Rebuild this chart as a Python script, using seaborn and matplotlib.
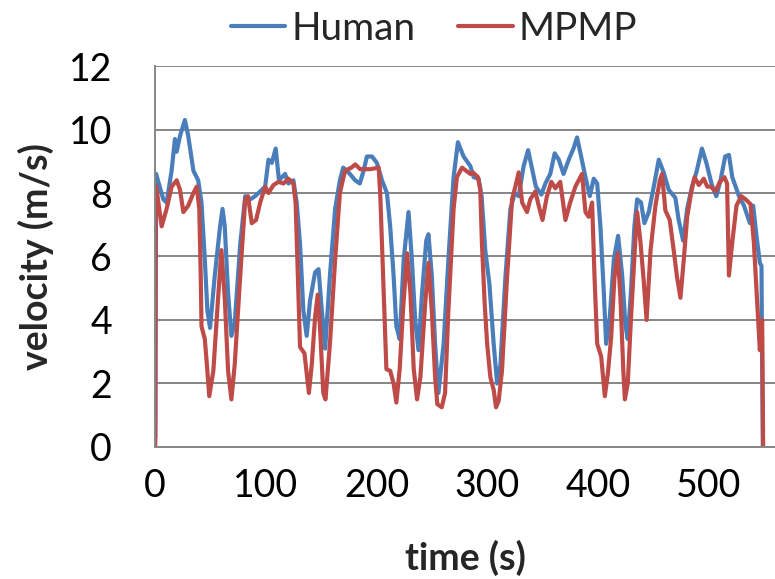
import pandas as pd
import matplotlib
matplotlib.use("Agg")
import matplotlib.pyplot as plt
import seaborn as sns
from matplotlib.lines import Line2D

# --- data ---
human_time = [0.3, 1, 7.5, 10.5, 15, 18, 19.6, 22.6, 27, 30, 34.7, 39, 42, 45, 47.3, 49.7, 54, 58.8,
              61, 63, 66, 69, 72, 77, 81.5, 86, 90.4, 96.4, 99.5, 102.5, 105.5, 109, 112, 117.5,
              120.5, 125, 128, 131, 134, 137, 140, 144.6, 147.7, 150.7, 153.7, 158, 162.7, 167,
              170, 176, 180.8, 185, 188.4, 191.4, 196, 200.4, 205, 209.5, 212.4, 215.5, 218, 221,
              224.6, 229, 232, 235, 238, 241, 245, 247, 250, 253, 256, 260.7, 265, 269.7, 273.6,
              278.7, 284.8, 287.8, 292.3, 295, 298.3, 302, 305.9, 309, 312, 316.5, 321, 325,
              328.5, 333, 337, 340.6, 344, 349, 352.6, 357, 361, 364.7, 369, 373.7, 378, 381.2,
              384.3, 388.8, 392.7, 396.3, 399.4, 402.3, 405.4, 407.5, 410.8, 414.4, 418.3, 422,
              425, 427, 430, 433, 435.5, 439, 442, 446, 450.5, 455, 459.4, 464, 470, 473, 477,
              480.7, 485, 489, 494, 498, 503, 507, 510.8, 515, 518.4, 521.4, 527.5, 532, 537.3,
              540.3, 543.3, 546.3, 547.8, 548.3, 549]
human_vel = [0.3, 8.6, 7.8, 7.7, 8.7, 9.7, 9.3, 9.8, 10.3, 9.8, 8.7, 8.4, 7.7, 5.9, 4.3, 3.75, 5.4, 6.95,
             7.5, 6.95, 4.85, 3.5, 3.9, 6.4, 7.9, 7.8, 7.9, 8.1, 8.2, 9.05, 8.95, 9.4, 8.4, 8.6,
             8.3, 8.4, 7.7, 6.4, 4.3, 3.5, 4.6, 5.5, 5.6, 4.3, 3.1, 5.4, 7.5, 8.4,
             8.8, 8.6, 8.4, 8.3, 8.7, 9.15, 9.15, 8.95, 8.4, 8.0, 6.95, 5.4, 3.8, 3.4,
             5.9, 7.4, 5.9, 4.0, 3.05, 4.75, 6.5, 6.7, 5.4, 3.25, 1.7, 3.25, 5.9, 8.5, 9.6,
             9.15, 8.85, 8.5, 8.45, 7.9, 6.2, 5.15, 3.25, 2.0, 2.6, 5.35, 7.5, 8.0,
             7.9, 8.85, 9.35, 8.75, 8.2, 7.95, 8.3, 8.6, 9.25, 9.05, 8.6, 9.05, 9.4, 9.75,
             9.25, 8.5, 7.9, 8.45, 8.3, 6.95, 4.85, 3.25, 4.1, 5.9, 6.65, 5.4,
             3.8, 3.4, 4.95, 6.95, 7.8, 7.7, 7.05, 7.4, 8.2, 9.05, 8.65, 8.1, 7.85, 7.15, 6.5,
             7.5, 8.2, 8.65, 9.4, 8.95, 8.25, 7.9, 8.4, 9.15, 9.2, 8.5, 7.9, 7.6, 7.05,
             7.6, 6.65, 5.8, 5.7, 2.95, 0]

mpmp_time = [0.2, 0.6, 1.5, 6, 10.5, 15, 19.6, 22.6, 25.6, 30, 34.7, 37.7, 40, 41.3, 42, 45, 47.3, 49,
             52.7, 57, 60, 63, 66, 69, 72, 77, 81.5, 84, 87.4, 91.3, 95, 99.5, 102.5, 107, 111.5,
             116, 120.5, 125, 127, 129, 131, 135, 139, 141.6, 144.6, 147, 149, 152, 154, 158,
             162.7, 167, 171.6, 177.5, 180.8, 185.4, 194.4, 202, 203.4, 206, 209, 212.4, 215.5,
             218, 221, 224, 227.7, 230.7, 233.7, 236.7, 239.7, 244, 247, 250, 253, 255, 259, 262,
             265, 269.7, 272.7, 277.3, 284.8, 287, 291.7, 293.8, 295.3, 297.8, 300, 302.9, 305.9,
             308, 310.4, 313.4, 318, 322.5, 325.5, 328.5, 331.6, 336, 339, 343.5, 346.6, 350, 354,
             358, 361.6, 366, 370.7, 375, 379.7, 385.7, 388.8, 391.7, 394.8, 397, 399.4, 403,
             406.3, 409, 412, 415, 418, 420.4, 423, 424.4, 427, 430, 434, 435.5, 438.5, 441.5,
             444, 447.6, 452, 456, 458, 461, 464.9, 468.5, 471.5, 474.6, 477.6, 480.7, 484.2,
             487.3, 491.2, 495.7, 498.8, 502, 506.3, 510.2, 514.3, 516.7, 518.4, 521.4, 525.2,
             529.5, 533.4, 537.9, 540.9, 544.5, 546.3, 548.4, 549.3]
mpmp_vel = [0, 8.25, 8.1, 6.95, 7.5, 8.2, 8.4, 8.1, 7.4, 7.6, 8.0, 8.2, 7.5, 5.4, 3.8, 3.4, 2.4, 1.6,
            2.4, 4.7, 6.2, 4.7, 2.4, 1.5, 2.6, 5.4, 7.8, 7.9, 7.05, 7.15, 7.7, 8.2, 8.0, 8.25, 8.35,
            8.3, 8.45, 8.3, 7.7, 5.4, 3.15, 2.95, 1.7, 2.6, 4.1, 4.8, 3.8, 1.7, 1.5, 3.25,
            5.9, 8.0, 8.7, 8.8, 8.9, 8.75, 8.75, 8.8, 8.0, 5.4, 2.45, 2.4, 2.0,
            1.4, 2.45, 4.3, 6.1, 4.85, 2.45, 1.5, 2.2, 4.5, 5.8, 4.3, 2.2, 1.35, 1.25, 1.7,
            4.3, 7.5, 8.5, 8.8, 8.6, 8.65, 8.5, 8.1, 6.4, 4.5, 3.25, 2.2, 1.8,
            1.25, 1.45, 2.4, 5.35, 7.8, 8.2, 8.65, 7.7, 7.4, 7.8, 8.05, 7.6, 7.15, 7.9,
            8.35, 8.15, 8.35, 7.15, 7.7, 8.2, 8.6, 7.4, 7.25, 7.7, 5.35, 3.25, 2.85,
            1.6, 2.3, 3.45, 5.35, 6.1, 4.7, 2.4, 1.5, 2.0, 4.1, 6.6, 7.4, 6.45, 5.2,
            4.0, 6.2, 7.6, 8.4, 8.6, 7.45, 7.15, 6.2, 5.35, 4.7, 5.9, 7.25, 8.0,
            8.5, 8.25, 8.45, 8.2, 8.2, 8.05, 8.35, 8.5, 8.3, 5.4, 6.45, 7.6,
            7.9, 7.8, 7.65, 6.45, 4.2, 3.05, 4.0, 0]

series_names = ["Human", "MPMP"]
series_colors = ["#4A7EBB", "#BE4B48"]
x_ticks = [0, 100, 200, 300, 400, 500]
y_ticks = [0, 2, 4, 6, 8, 10, 12]

df_h = pd.DataFrame({"time": human_time, "velocity": human_vel})
df_m = pd.DataFrame({"time": mpmp_time, "velocity": mpmp_vel})

# --- figure ---
sns.set_style("white")
plt.rcParams["font.family"] = ["Lato", "DejaVu Sans"]

fig = plt.figure(figsize=(7.75, 5.79), dpi=100)
ax = fig.add_axes([0.2, 0.228, 0.8, 0.658])

grid_col = "#868686"
ax.set_axisbelow(True)
ax.yaxis.grid(True, color=grid_col, linewidth=1.4)

lw = 3.0
sns.lineplot(data=df_h, x="time", y="velocity", color=series_colors[0], linewidth=lw,
             sort=False, estimator=None, ax=ax)
sns.lineplot(data=df_m, x="time", y="velocity", color=series_colors[1], linewidth=lw,
             sort=False, estimator=None, ax=ax)

ax.set_xlim(0, 560)
ax.set_ylim(0, 12)
ax.set_xticks(x_ticks)
ax.set_yticks(y_ticks)
ax.tick_params(axis="both", direction="out", length=11, width=1.3, color=grid_col,
               labelsize=27, labelcolor="black")
ax.tick_params(axis="y", pad=20)
ax.tick_params(axis="x", pad=4)

for s in ["top", "right"]:
    ax.spines[s].set_visible(False)
for s in ["left", "bottom"]:
    ax.spines[s].set_color(grid_col)
    ax.spines[s].set_linewidth(1.4)

ax.set_xlabel("time (s)", fontsize=27, fontweight="bold", labelpad=26)
ax.set_ylabel("velocity (m/s)", fontsize=27, fontweight="bold")
ax.yaxis.set_label_coords(-0.163, 0.5)

handles = [Line2D([0], [0], color=c, linewidth=lw) for c in series_colors]
fig.legend(handles, series_names, loc="center", bbox_to_anchor=(0.56, 0.95), ncol=2,
           frameon=False, fontsize=28, handlelength=1.4, handletextpad=0.15,
           columnspacing=1.1, borderaxespad=0)

fig.savefig("out.png", dpi=100)
